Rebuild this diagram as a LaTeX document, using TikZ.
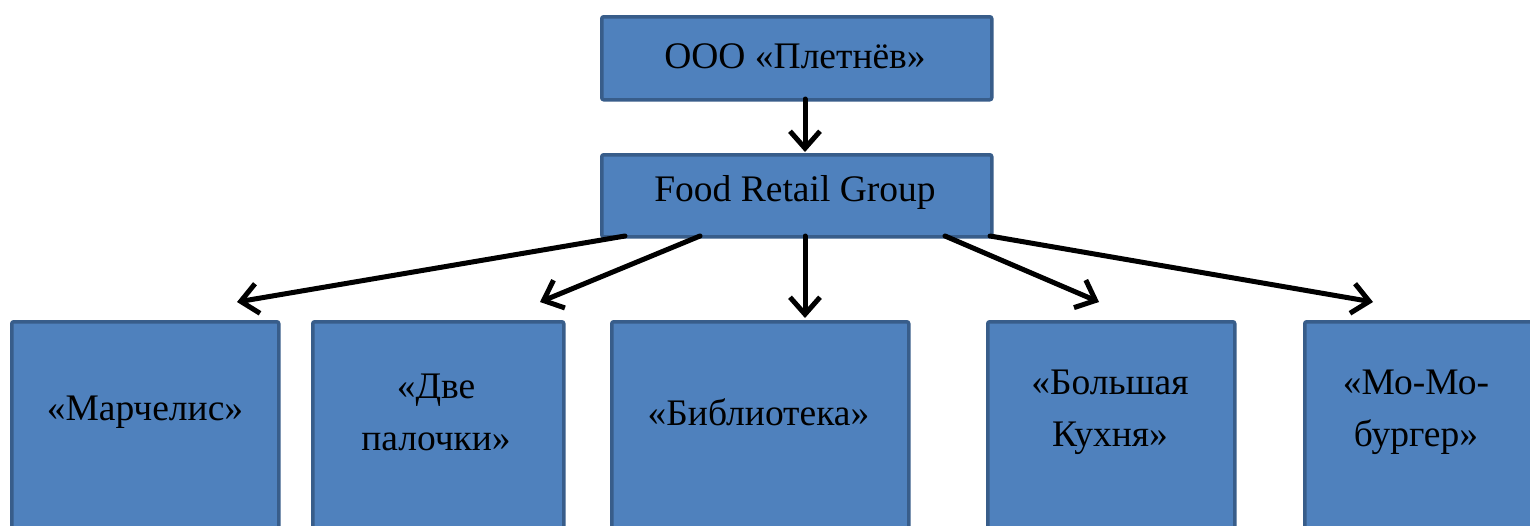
\documentclass[tikz,border=0pt]{standalone}
\usepackage{fontspec}
\setmainfont{Liberation Serif}
\usetikzlibrary{arrows.meta,positioning}
\definecolor{boxfill}{HTML}{4F81BD}
\definecolor{boxline}{HTML}{385D8A}
\tikzset{
  orgbox/.style={draw=boxline, fill=boxfill, line width=3.5pt, rounded corners=2pt, inner sep=0pt, anchor=north west},
  lbl/.style={font=\fontsize{37.5}{52}\selectfont, align=center, text=black},
  conn/.style={line width=5pt, draw=black, line cap=round, -{Straight Barb[length=17pt,width=30pt,line width=5pt]}}
}
\begin{document}
\begin{tikzpicture}[x=1pt,y=-1pt]
\clip (0,0) rectangle (1530,525);
\fill[white] (0,0) rectangle (1530,525);
% top boxes
\node[orgbox, minimum width=390pt, minimum height=83pt] (top) at (600,15) {};
\node[lbl] (toptxt) at (795,56) {ООО «Плетнёв»};
\node[orgbox, minimum width=390pt, minimum height=82pt] (frg) at (600,153) {};
\node[lbl] (frgtxt) at (795,192) {Food Retail Group};
% bottom boxes
\node[orgbox, minimum width=267pt, minimum height=260pt] (b1) at (10,320) {};
\node[orgbox, minimum width=251pt, minimum height=260pt] (b2) at (311,320) {};
\node[orgbox, minimum width=297pt, minimum height=260pt] (b3) at (610,320) {};
\node[orgbox, minimum width=247pt, minimum height=260pt] (b4) at (986,320) {};
\node[orgbox, minimum width=260pt, minimum height=260pt] (b5) at (1303,320) {};
\node[lbl] (t1) at (145,412) {«Марчелис»};
\node[lbl] (t2) at (436,412) {«Две\\палочки»};
\node[lbl] (t3) at (758.5,412) {«Библиотека»};
\node[lbl] (t4) at (1110,412) {«Большая\\Кухня»};
\node[lbl] (t5) at (1416,412) {«Мо-Мо-\\бургер»};
% anchor coordinates for connectors
\coordinate (s0) at (805,99);
\coordinate (e0) at (805,152);
\coordinate (s1) at (625,236);
\coordinate (e1) at (237,302);
\coordinate (s2) at (700,236);
\coordinate (e2) at (540,302);
\coordinate (s3) at (805,236);
\coordinate (e3) at (805,318);
\coordinate (s4) at (945,236);
\coordinate (e4) at (1099,302);
\coordinate (s5) at (990,236);
\coordinate (e5) at (1373,302);
\draw[conn] (s0) -- (e0);
\draw[conn] (s1) -- (e1);
\draw[conn] (s2) -- (e2);
\draw[conn] (s3) -- (e3);
\draw[conn] (s4) -- (e4);
\draw[conn] (s5) -- (e5);
\end{tikzpicture}
\end{document}
